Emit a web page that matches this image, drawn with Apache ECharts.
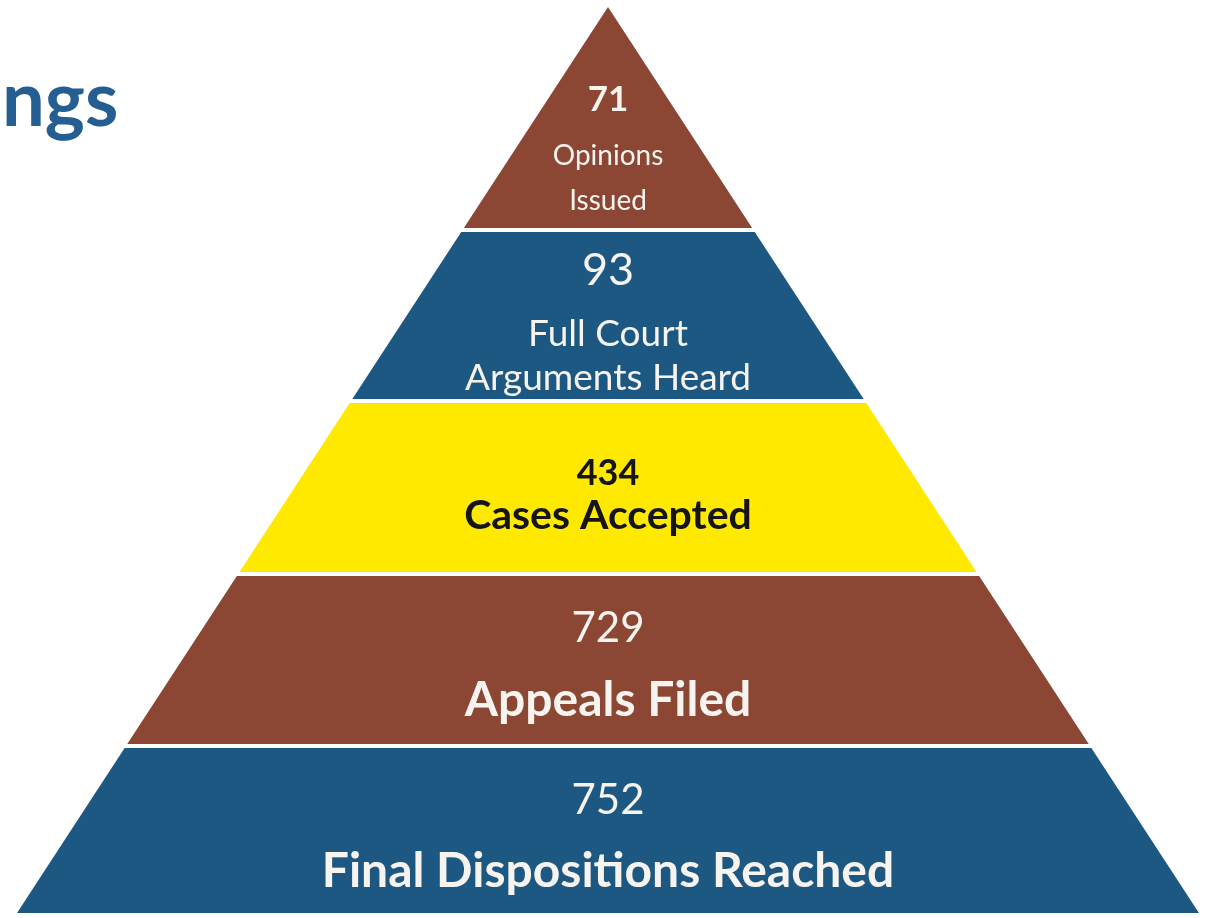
<!DOCTYPE html>
<html>
<head>
<meta charset="utf-8">
<title>Filings pyramid</title>
<script src="https://cdn.jsdelivr.net/npm/echarts@6/dist/echarts.min.js"></script>
<style>
  html, body { margin: 0; padding: 0; background: #ffffff; }
  #chart { width: 1205px; height: 918px; }
</style>
</head>
<body>
<div id="chart"></div>
<script>
// tiers, top of the pyramid first
var tierNames = ['Opinions\nIssued', 'Full Court\nArguments Heard', 'Cases Accepted', 'Appeals Filed', 'Final Dispositions Reached'];
var tierCounts = [71, 93, 434, 729, 752];

// layout of the slices (fraction of pyramid height, 0 = apex)
var sliceTop = [0, 225 / 906, 396 / 906, 569 / 906, 741 / 906];
var sliceBottom = [221 / 906, 392 / 906, 565 / 906, 737 / 906, 1];

// look of each slice
var sliceStyle = [
  { fill: '#8B4634', text: '#F7F4EF', numSize: 35, numWeight: 'bold', labSize: 28, labWeight: 'normal', labLine: 45, numDy: 93, labDy: 171 },
  { fill: '#1D5883', text: '#F7F4EF', numSize: 45, numWeight: 'normal', labSize: 37, labWeight: 'normal', labLine: 44, numDy: 38, labDy: 124 },
  { fill: '#FFE900', text: '#151515', numSize: 36, numWeight: 'bold', labSize: 41, labWeight: 'bold', labLine: 40, numDy: 70, labDy: 113 },
  { fill: '#8B4634', text: '#F7F4EF', numSize: 42, numWeight: 'normal', labSize: 48, labWeight: 'bold', labLine: 50, numDy: 52, labDy: 125 },
  { fill: '#1D5883', text: '#F7F4EF', numSize: 42, numWeight: 'normal', labSize: 48, labWeight: 'bold', labLine: 50, numDy: 52, labDy: 124 }
];

var seriesData = tierCounts.map(function (v, i) {
  return { value: [i, v], name: tierNames[i] };
});

var myChart = echarts.init(document.getElementById('chart'));

var option = {
  animation: false,
  title: {
    text: 'ngs',
    left: -3,
    top: 58,
    textStyle: {
      fontFamily: 'Lato',
      fontSize: 76,
      fontWeight: 'bold',
      color: '#245E92'
    }
  },
  grid: { left: 17, right: 6, top: 7, bottom: 5 },
  xAxis: { type: 'value', min: -1, max: 1, show: false },
  yAxis: { type: 'value', min: 0, max: 1, inverse: true, show: false },
  series: [{
    type: 'custom',
    data: seriesData,
    renderItem: function (params, api) {
      var i = api.value(0);
      var t = sliceTop[i];
      var b = sliceBottom[i];
      var st = sliceStyle[i];
      var pts = [
        api.coord([-t, t]),
        api.coord([t, t]),
        api.coord([b, b]),
        api.coord([-b, b])
      ];
      var cx = api.coord([0, 0])[0];
      var yTop = pts[0][1];
      return {
        type: 'group',
        children: [
          {
            type: 'polygon',
            shape: { points: pts },
            style: { fill: st.fill }
          },
          {
            type: 'text',
            style: {
              text: String(api.value(1)),
              x: cx,
              y: yTop + st.numDy,
              align: 'center',
              verticalAlign: 'middle',
              fill: st.text,
              fontFamily: 'Lato',
              fontSize: st.numSize,
              fontWeight: st.numWeight
            }
          },
          {
            type: 'text',
            style: {
              text: tierNames[i],
              x: cx,
              y: yTop + st.labDy,
              align: 'center',
              verticalAlign: 'middle',
              fill: st.text,
              fontFamily: 'Lato',
              fontSize: st.labSize,
              fontWeight: st.labWeight,
              lineHeight: st.labLine
            }
          }
        ]
      };
    }
  }]
};

myChart.setOption(option);
</script>
</body>
</html>
